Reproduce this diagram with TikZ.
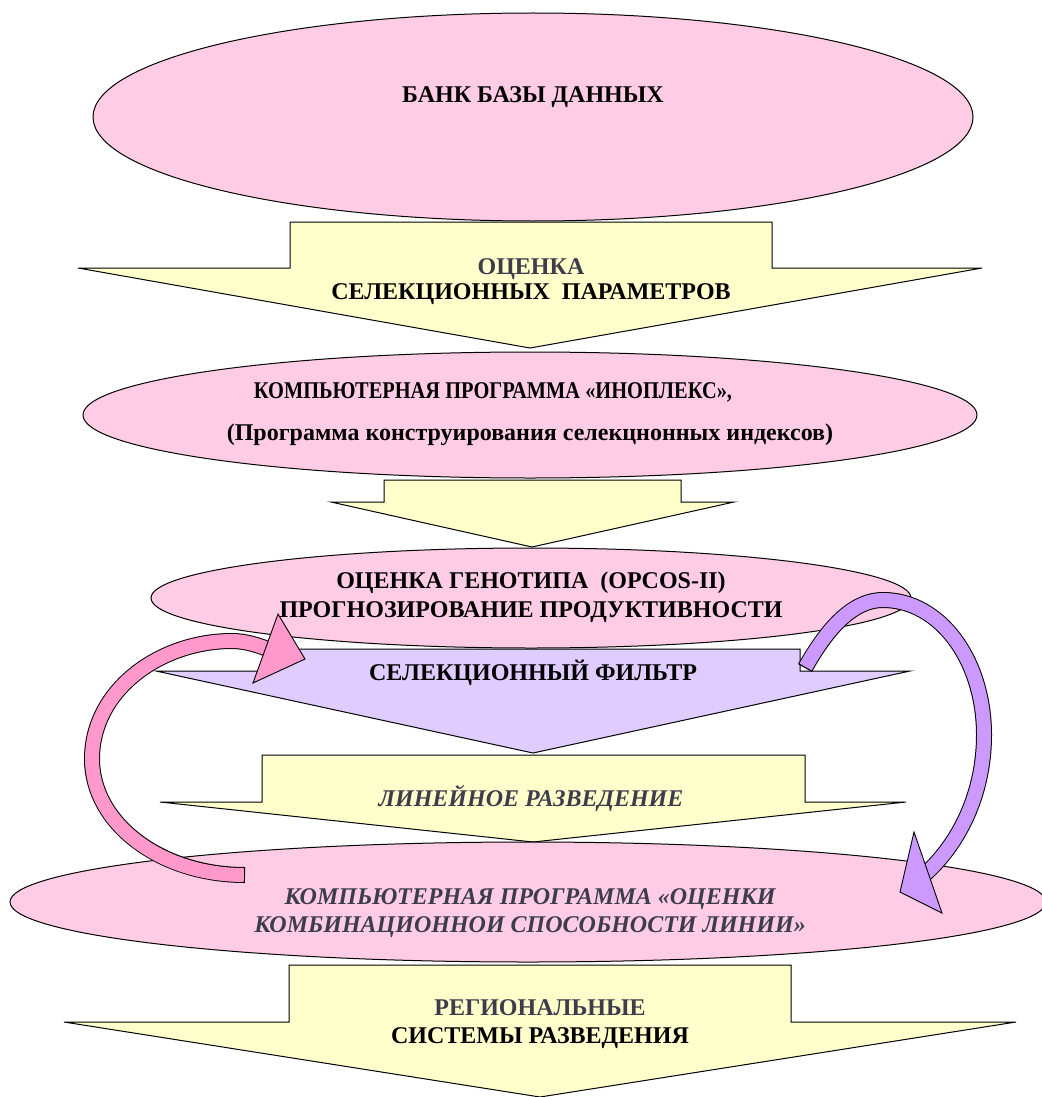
\documentclass[tikz,border=0pt]{standalone}
\usepackage{fontspec}
\usepackage{graphicx}
\setmainfont{Liberation Serif}
\usetikzlibrary{shapes.geometric}

\definecolor{ovalpink}{RGB}{255,204,230}
\definecolor{arrowyellow}{RGB}{255,255,204}
\definecolor{filterlilac}{RGB}{224,204,255}
\definecolor{looppink}{RGB}{255,153,204}
\definecolor{looplilac}{RGB}{204,153,255}
\definecolor{inkgray}{RGB}{60,60,75}

\begin{document}
\begin{tikzpicture}[
    x=1pt, y=-1pt,
    font=\bfseries\fontsize{24}{25}\selectfont,
    oval/.style={
        ellipse,
        draw=black,
        line width=1pt,
        fill=ovalpink,
        inner sep=0pt
    },
    blockarr/.style={
        draw=black,
        line width=1pt,
        fill=arrowyellow
    },
    lbl/.style={align=center, inner sep=0pt},
    loopedge/.style={line width=16pt, draw=black},
    loopfill/.style={line width=14pt, shorten <=1.2pt},
    loophead/.style={draw=black, line width=0.9pt}
]
\useasboundingbox (0,0) rectangle (1041,1097);

% block arrows, under the ovals
\draw[blockarr] (290,222) -- (772,222) -- (772,268) -- (982,268) -- (530,348)
    -- (78,268) -- (290,268) -- cycle;
\draw[blockarr] (384,480) -- (681,480) -- (681,502) -- (734,502) -- (532,547)
    -- (331,502) -- (384,502) -- cycle;
\draw[blockarr, fill=filterlilac] (266,649) -- (800,649) -- (800,671) -- (910,671)
    -- (533,753) -- (156,671) -- (266,671) -- cycle;
\draw[blockarr] (262,755) -- (805,755) -- (805,802) -- (906,802) -- (533,842)
    -- (160,802) -- (262,802) -- cycle;
\draw[blockarr] (289,965) -- (791,965) -- (791,1022) -- (1016,1022) -- (540,1097)
    -- (64,1022) -- (289,1022) -- cycle;

% ovals
\node[oval, minimum width=880, minimum height=208] (bank) at (533,117) {};
\node[oval, minimum width=894, minimum height=126] (inoplex) at (530,415) {};
\node[oval, minimum width=760, minimum height=100] (genotype) at (531,598) {};
\node[oval, minimum width=1036, minimum height=120] (combine) at (528,902) {};

% texts
\node[lbl] (banktext) at (533,97) {БАНК БАЗЫ ДАННЫХ};
\node[lbl] (seltext) at (531,282)
    {\textcolor{inkgray}{ОЦЕНКА}\\СЕЛЕКЦИОННЫХ\ \ ПАРАМЕТРОВ};
\node[lbl, font=\bfseries\fontsize{24}{42}\selectfont] (inoplextext) at (530,414)
    {\scalebox{0.85}[1]{КОМПЬЮТЕРНАЯ ПРОГРАММА «ИНОПЛЕКС»,}\hspace*{74pt}\\(Программа конструирования селекцнонных индексов)};
\node[lbl, font=\bfseries\fontsize{24}{29}\selectfont] (genotypetext) at (531,597)
    {ОЦЕНКА ГЕНОТИПА\ \ (OPCOS-II)\\ПРОГНОЗИРОВАНИЕ ПРОДУКТИВНОСТИ};
\node[lbl] (filtertext) at (533,673) {СЕЛЕКЦИОННЫЙ ФИЛЬТР};
\node[lbl, font=\bfseries\itshape\fontsize{24}{25}\selectfont, text=inkgray] (linetext)
    at (531,798) {ЛИНЕЙНОЕ РАЗВЕДЕНИЕ};
\node[lbl, font=\bfseries\itshape\fontsize{24}{28}\selectfont, text=inkgray] (combinetext)
    at (530,913) {КОМПЬЮТЕРНАЯ ПРОГРАММА «ОЦЕНКИ\\КОМБИНАЦИОННОИ СПОСОБНОСТИ ЛИНИИ»};
\node[lbl, font=\bfseries\fontsize{24}{28}\selectfont] (regiontext) at (540,1024)
    {\textcolor{inkgray}{РЕГИОНАЛЬНЫЕ}\\СИСТЕМЫ РАЗВЕДЕНИЯ};

% loop arrows
\coordinate (pinktail) at (245,875);
\coordinate (pinkend) at (270,650);
\coordinate (lilactail) at (805,668);
\coordinate (lilacend) at (924,875);

\draw[loopedge] (pinktail) .. controls (160,875) and (92,823) .. (92,759)
    .. controls (92,690) and (160,641) .. (232,641)
    .. controls (245,641) and (258,645) .. (pinkend);
\draw[loopfill, draw=looppink] (pinktail) .. controls (160,875) and (92,823) .. (92,759)
    .. controls (92,690) and (160,641) .. (232,641)
    .. controls (245,641) and (258,645) .. (pinkend);
\draw[loophead, fill=looppink] (278,614) -- (305,659) -- (253,683) -- cycle;

\draw[loopedge] (lilactail) .. controls (822,638) and (848,600) .. (883,600)
    .. controls (940,600) and (984,660) .. (984,735)
    .. controls (984,795) and (958,845) .. (lilacend);
\draw[loopfill, draw=looplilac] (lilactail) .. controls (822,638) and (848,600) .. (883,600)
    .. controls (940,600) and (984,660) .. (984,735)
    .. controls (984,795) and (958,845) .. (lilacend);
\draw[loophead, fill=looplilac] (914,832) -- (900,892) -- (942,913) -- cycle;

\end{tikzpicture}
\end{document}
